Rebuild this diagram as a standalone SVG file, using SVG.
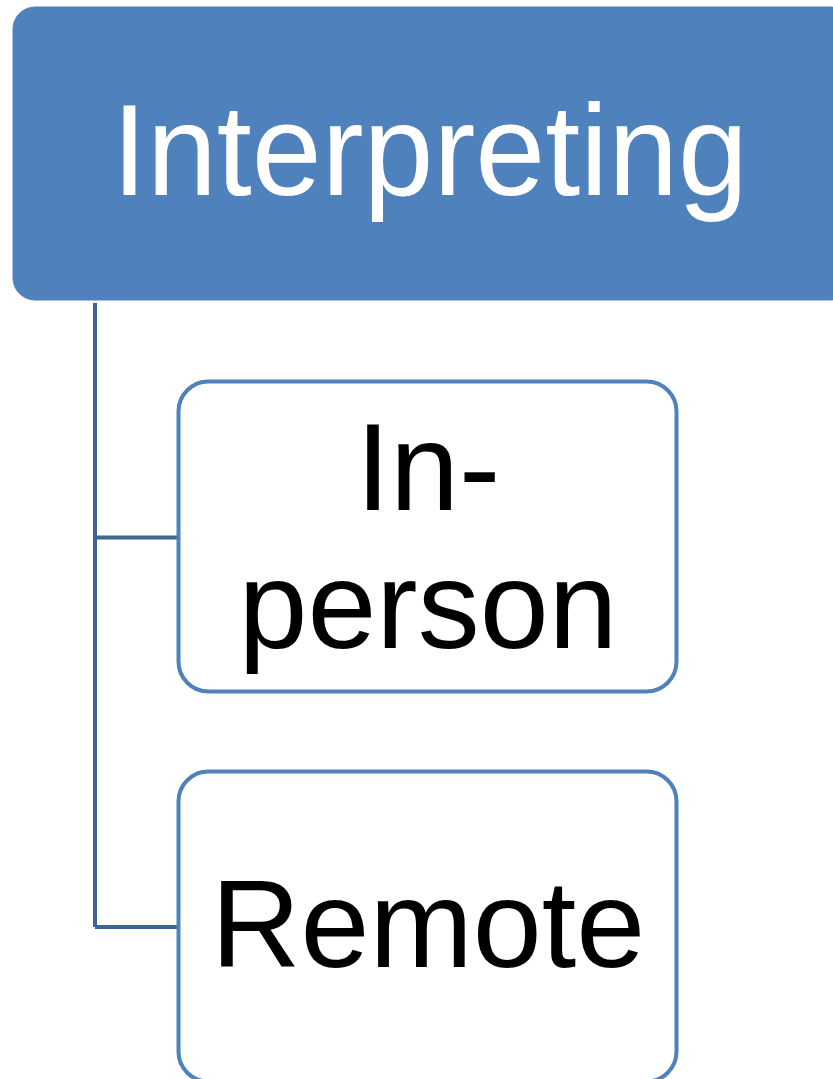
<svg xmlns="http://www.w3.org/2000/svg" width="833" height="1079" viewBox="0 0 833 1079">
<style>
.root{fill:#4f81bd;stroke:#4f81bd;stroke-width:1}
.child{fill:#ffffff;stroke:#4f81bd;stroke-width:4}
.conn{fill:none;stroke:#3c6494;stroke-width:4}
.t{font-family:"Liberation Sans",Arial,sans-serif;text-anchor:middle}
</style>
<g id="connectors">
<path class="conn" d="M95,303 V927 M95,537.5 H178 M95,927 H178"/>
</g>
<g id="node-interpreting">
<rect class="root" x="13" y="7" width="840" height="293" rx="22"/>
<text class="t" x="430" y="195" font-size="130" fill="#ffffff" textLength="636" lengthAdjust="spacingAndGlyphs">Interpreting</text>
</g>
<g id="node-inperson">
<rect class="child" x="178.5" y="381.5" width="498" height="310" rx="30"/>
<text class="t" x="428" y="510" font-size="124" fill="#000000">In-</text>
<text class="t" x="428" y="648" font-size="124" fill="#000000">person</text>
</g>
<g id="node-remote">
<rect class="child" x="178.5" y="771.5" width="498" height="310" rx="30"/>
<text class="t" x="428" y="967" font-size="124" fill="#000000">Remote</text>
</g>
</svg>
